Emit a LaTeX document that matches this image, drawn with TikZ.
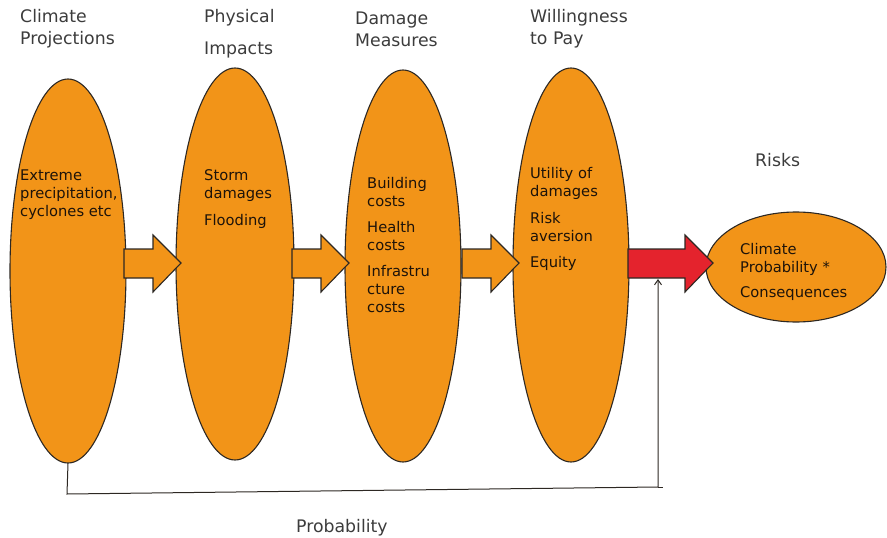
\documentclass[tikz,border=0pt]{standalone}
\usepackage{fontspec}
\setmainfont{DejaVu Sans}
\usetikzlibrary{arrows.meta,shapes.geometric}
\definecolor{stageorange}{RGB}{242,148,24}
\definecolor{riskred}{RGB}{228,35,45}
\definecolor{edgegray}{RGB}{45,40,35}
\definecolor{titlegray}{RGB}{60,60,60}
\begin{document}
\begin{tikzpicture}[x=1pt,y=-1pt,
  stage/.style={ellipse, draw=edgegray, line width=1.1pt, fill=stageorange,
    inner sep=0pt, outer sep=0pt},
  blockarrow/.style={draw=edgegray, line width=1.1pt, fill=stageorange, line join=miter},
  title/.style={anchor=west, inner sep=0pt, align=left, text=titlegray,
    font=\fontsize{17.3}{22}\selectfont},
  item/.style={anchor=west, inner sep=0pt, align=left, text=black!85!brown,
    font=\fontsize{14.7}{18}\selectfont},
  feedback/.style={draw=edgegray, line width=1pt}]
\useasboundingbox (0,0) rectangle (887,538);

% stage ellipses
\node[stage, minimum width=116pt, minimum height=384pt] (s1) at (68,271) {};
\node[stage, minimum width=118pt, minimum height=392pt] (s2) at (235,264) {};
\node[stage, minimum width=116pt, minimum height=392pt] (s3) at (403,266) {};
\node[stage, minimum width=116pt, minimum height=394pt] (s4) at (571,265) {};
\node[stage, minimum width=180pt, minimum height=110pt] (s5) at (796,267) {};
\coordinate (risk) at (658,279);

% block arrows between stages: start x / shaft length / fill
\foreach \xa/\len/\col in {124/29/stageorange, 292/29/stageorange,
                            462/29/stageorange, 628/57/riskred}{
  \draw[blockarrow, fill=\col]
    (\xa,249) -- ++(\len,0) -- ++(0,-14) -- ++(28,28) -- ++(-28,29) -- ++(0,-14)
    -- ++(-\len,0) -- cycle;
}

% feedback line into the risk arrow
\draw[feedback, -{Straight Barb[length=5pt,width=7pt]}]
  (s1.south) -- (67,494) -- (658,487) -- (risk);
\draw[feedback] (658,487) -- (663,487);

% column titles
\node[title] (t1) at (20,29) {Climate\\Projections};
\node[title] (t2a) at (204,18) {Physical};
\node[title] (t2b) at (204,50) {Impacts};
\node[title] (t3) at (355,29) {Damage\\Measures};
\node[title] (t4) at (530,29) {Willingness\\to Pay};
\node[title] (t5) at (755,160) {Risks};
\node[title] (t6) at (296,528) {Probability};

% ellipse contents
\node[item] (a1) at (20,195) {Extreme\\precipitation,\\cyclones etc};
\node[item] (b1) at (204,186) {Storm\\damages};
\node[item] (b2) at (204,221) {Flooding};
\node[item] (c1) at (367,192.5) {Building\\costs};
\node[item] (c2) at (367,236) {Health\\costs};
\node[item] (c3) at (367,289) {Infrastru\\cture\\costs};
\node[item] (d1) at (530,183.5) {Utility of\\damages};
\node[item] (d2) at (530,227) {Risk\\aversion};
\node[item] (d3) at (530,263) {Equity};
\node[item] (e1) at (740,259) {Climate\\Probability *};
\node[item] (e2) at (740,294) {Consequences};
\end{tikzpicture}
\end{document}
